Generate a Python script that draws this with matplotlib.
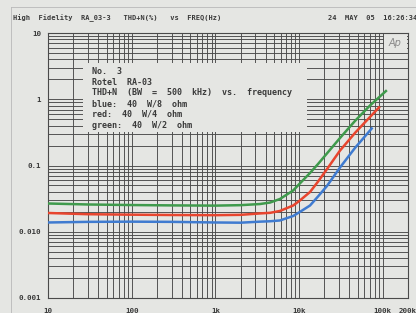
import numpy as np
import matplotlib.pyplot as plt
from matplotlib.patches import Rectangle
from matplotlib.lines import Line2D

# THD+N (%) vs frequency (Hz)
freq_blue = [10, 30, 100, 300, 1000, 2000, 3400, 4500, 5900, 8500, 10200, 13500,
             16800, 21500, 30800, 46500, 73700]
thd_blue = [0.0138, 0.0141, 0.0142, 0.0141, 0.0138, 0.0137, 0.0142, 0.0144, 0.0148,
            0.0173, 0.0199, 0.0249, 0.0340, 0.0490, 0.0933, 0.184, 0.362]

freq_red = [10, 30, 100, 300, 1000, 2000, 3400, 4500, 5900, 8500, 10200, 13500,
            16800, 21500, 30800, 46500, 70300, 90000]
thd_red = [0.0192, 0.0184, 0.0181, 0.0179, 0.0178, 0.0180, 0.0189, 0.0193, 0.0206,
           0.0249, 0.0296, 0.0398, 0.0570, 0.0880, 0.168, 0.310, 0.540, 0.751]

freq_green = [10, 30, 100, 300, 1000, 2000, 3400, 4500, 5900, 8500, 10200, 13500,
              16800, 21500, 30800, 46500, 70300, 109000]
thd_green = [0.0267, 0.0258, 0.0253, 0.0250, 0.0248, 0.0252, 0.0262, 0.0276, 0.0312,
             0.0420, 0.0535, 0.0771, 0.105, 0.152, 0.260, 0.470, 0.805, 1.33]

xticks = [10, 100, 1e3, 1e4, 1e5, 2e5]
xlabels = ["10", "100", "1k", "10k", "100k", "200k"]
yticks = [0.001, 0.01, 0.1, 1, 10]
ylabels = ["0.001", "0.010", "0.1", "1", "10"]

header_left = "High  Fidelity  RA_03-3   THD+N(%)   vs  FREQ(Hz)"
header_right = "24  MAY  05  16:26:34"
note = ("No.  3\n"
        "Rotel  RA-03\n"
        "THD+N  (BW  =  500  kHz)  vs.  frequency\n"
        "blue:  40  W/8  ohm\n"
        "red:  40  W/4  ohm\n"
        "green:  40  W/2  ohm")

bg = "#e5e6e3"
ink = "#3a3a3a"
mono = "DejaVu Sans Mono"

fig = plt.figure(figsize=(4.16, 3.13), dpi=100, facecolor=bg)
ax = fig.add_axes([48 / 416, 1 - 298 / 313, 360 / 416, 265 / 313])
ax.set_facecolor(bg)
ax.set_xscale("log")
ax.set_yscale("log")
ax.set_xlim(10, 2e5)
ax.set_ylim(0.001, 10)

minor_x = [m * 10 ** d for d in range(1, 5) for m in range(2, 10)]
minor_y = [m * 10.0 ** d for d in range(-3, 1) for m in range(2, 10)]
ax.set_xticks(xticks, xlabels)
ax.set_xticks(minor_x, minor=True)
ax.set_yticks(yticks, ylabels)
ax.set_yticks(minor_y, minor=True)
ax.tick_params(which="both", length=0)
ax.tick_params(axis="x", pad=7)
ax.tick_params(axis="y", pad=5)
for lab in ax.get_xticklabels() + ax.get_yticklabels():
    lab.set_fontfamily(mono)
    lab.set_fontsize(5.4)
    lab.set_fontweight("bold")
    lab.set_color(ink)

ax.set_axisbelow(True)
ax.grid(which="both", color="#4a4a4a", linewidth=0.65)
for sp in ax.spines.values():
    sp.set_color("#4a4a4a")
    sp.set_linewidth(0.8)

# blank panel behind the note, and the logo corner
ax.add_patch(Rectangle((0.097, 0.626), 0.622, 0.261, transform=ax.transAxes,
                       facecolor=bg, edgecolor="none", zorder=1))
ax.add_patch(Rectangle((0.932, 0.925), 0.066, 0.073, transform=ax.transAxes,
                       facecolor=bg, edgecolor="none", zorder=1))
ax.text(0.965, 0.962, "Ap", transform=ax.transAxes, ha="center", va="center",
        fontsize=7, style="italic", color="#8a8a8a", zorder=3)

ax.plot(freq_green, thd_green, color="#3f9a4c", linewidth=1.8, zorder=3,
        solid_joinstyle="round")
ax.plot(freq_red, thd_red, color="#e8452e", linewidth=1.8, zorder=3,
        solid_joinstyle="round")
ax.plot(freq_blue, thd_blue, color="#3f7bd0", linewidth=1.8, zorder=3,
        solid_joinstyle="round")

ax.text(0.122, 0.872, note, transform=ax.transAxes, ha="left", va="top",
        fontsize=6.0, fontfamily=mono, fontweight="bold", color=ink,
        linespacing=1.25, zorder=4)

fig.text(13 / 416, 1 - 18 / 313, header_left, ha="left", va="center",
         fontsize=5.0, fontfamily=mono, fontweight="bold", color=ink)
fig.text(328 / 416, 1 - 18 / 313, header_right, ha="left", va="center",
         fontsize=5.0, fontfamily=mono, fontweight="bold", color=ink)

# page border of the scan
fig.add_artist(Line2D([11 / 416, 11 / 416], [0, 1 - 7 / 313],
                      transform=fig.transFigure, color="#b8b8b8", linewidth=0.6))
fig.add_artist(Line2D([11 / 416, 1], [1 - 7 / 313, 1 - 7 / 313],
                      transform=fig.transFigure, color="#b8b8b8", linewidth=0.6))

fig.savefig("out.png", dpi=100, facecolor=bg)
